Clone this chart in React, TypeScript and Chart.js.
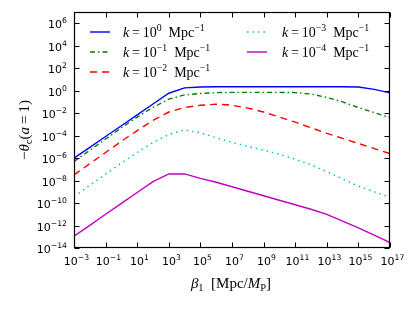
import React, { useEffect, useRef } from "react";
import { Chart, registerables } from "chart.js";

Chart.register(...registerables);

// log10 of beta_1 [Mpc/M_P] at sampled points
const betaExp = [-3, -2, -1, 0, 1, 2, 3, 4, 5, 6, 7, 8, 9, 10, 11, 12, 13, 14, 15, 16, 17];

// log10 of -theta_c(a=1) for each k
const k0Log = [-6.0, -5.04, -4.08, -3.12, -2.15, -1.19, -0.23, 0.25, 0.33, 0.35, 0.35, 0.35, 0.35, 0.35, 0.35, 0.35, 0.35, 0.35, 0.33, 0.12, -0.2];
const k1Log = [-6.3, -5.3, -4.3, -3.3, -2.35, -1.5, -0.75, -0.38, -0.25, -0.18, -0.15, -0.15, -0.15, -0.15, -0.17, -0.3, -0.6, -1.0, -1.5, -1.95, -2.4];
const k2Log = [-7.5, -6.5, -5.5, -4.5, -3.55, -2.65, -1.9, -1.5, -1.3, -1.2, -1.3, -1.55, -1.9, -2.35, -2.8, -3.3, -3.8, -4.25, -4.7, -5.15, -5.6];
const k3Log = [-9.43, -8.43, -7.43, -6.43, -5.5, -4.6, -3.9, -3.5, -3.75, -4.2, -4.6, -4.95, -5.3, -5.65, -6.1, -6.6, -7.2, -7.85, -8.5, -9.0, -9.49];
const k4Log = [-12.95, -11.98, -11.0, -10.03, -9.06, -8.1, -7.41, -7.41, -7.8, -8.15, -8.55, -8.95, -9.35, -9.75, -10.15, -10.55, -11.0, -11.6, -12.2, -12.85, -13.52];

const kExponents = ["0", "\u22121", "\u22122", "\u22123", "\u22124"];

const xTickExp = [-3, -1, 1, 3, 5, 7, 9, 11, 13, 15, 17];
const yTickExp = [-14, -12, -10, -8, -6, -4, -2, 0, 2, 4, 6];

// styles (kept separate from data)
const seriesValues = [k0Log, k1Log, k2Log, k3Log, k4Log];
const seriesColors = ["#0000ff", "#008000", "#ff0000", "#00bfbf", "#bf00bf"];
const seriesDash: number[][] = [[], [5, 3, 1.5, 3], [7, 5], [1.5, 4], []];
const legendSlots = [
  { hx: 90, tx: 123, y: 32 },
  { hx: 90, tx: 123, y: 52 },
  { hx: 90, tx: 123, y: 72 },
  { hx: 247, tx: 282, y: 32 },
  { hx: 247, tx: 282, y: 52 },
];

type Part = { t: string; it?: boolean; sc?: "sup" | "sub" };
const SERIF = "'Liberation Serif', 'DejaVu Serif', serif";
const SANS = "'DejaVu Sans', sans-serif";

const expText = (n: number) => (n < 0 ? "\u2212" + Math.abs(n) : String(n));

function drawRich(
  ctx: CanvasRenderingContext2D,
  parts: Part[],
  x: number,
  y: number,
  size: number,
  align: "left" | "center" | "right",
  family: string = SERIF,
  supRaise = 0.42
) {
  const fontFor = (p: Part) => {
    const fs = p.sc ? size * 0.7 : size;
    return `${p.it ? "italic " : ""}${fs}px ${family}`;
  };
  const widths = parts.map((p) => {
    ctx.font = fontFor(p);
    return ctx.measureText(p.t).width;
  });
  const total = widths.reduce((a, b) => a + b, 0);
  let cx = align === "center" ? x - total / 2 : align === "right" ? x - total : x;
  ctx.textAlign = "left";
  ctx.textBaseline = "alphabetic";
  parts.forEach((p, i) => {
    ctx.font = fontFor(p);
    let off = 0;
    if (p.sc === "sup") off = -size * supRaise;
    if (p.sc === "sub") off = size * 0.22;
    ctx.fillText(p.t, cx, y + off);
    cx += widths[i];
  });
}

const decor = {
  id: "decor",
  afterDraw(chart: any) {
    const { ctx, chartArea: a, scales } = chart;
    const xs = scales.x;
    const ys = scales.y;
    ctx.save();
    ctx.strokeStyle = "#000";
    ctx.lineWidth = 1;
    ctx.setLineDash([]);
    const line = (x1: number, y1: number, x2: number, y2: number) => {
      ctx.beginPath();
      ctx.moveTo(x1, y1);
      ctx.lineTo(x2, y2);
      ctx.stroke();
    };
    const L = Math.round(a.left) + 0.5;
    const R = Math.round(a.right) - 0.5;
    const T = Math.round(a.top) + 0.5;
    const B = Math.round(a.bottom) - 0.5;
    ctx.fillStyle = "#000";
    xTickExp.forEach((e) => {
      const px = Math.round(xs.getPixelForValue(Math.pow(10, e))) + 0.5;
      line(px, B, px, B - 5);
      line(px, T, px, T + 5);
      drawRich(ctx, [{ t: "10" }, { t: expText(e), sc: "sup" }], px + 2, a.bottom + 17, 11, "center", SANS, 0.5);
    });
    yTickExp.forEach((e) => {
      const py = Math.round(ys.getPixelForValue(Math.pow(10, e))) + 0.5;
      line(L, py, L + 5, py);
      line(R, py, R - 5, py);
      drawRich(ctx, [{ t: "10" }, { t: expText(e), sc: "sup" }], a.left - 7, py + 4.5, 11, "right", SANS, 0.5);
    });
    ctx.lineWidth = 1.2;
    ctx.strokeRect(L, T, R - L, B - T);

    // legend
    seriesColors.forEach((col, i) => {
      const s = legendSlots[i];
      ctx.strokeStyle = col;
      ctx.lineWidth = 1.4;
      ctx.setLineDash(seriesDash[i]);
      line(s.hx, s.y, s.hx + 20, s.y);
      ctx.setLineDash([]);
      drawRich(
        ctx,
        [
          { t: "k", it: true },
          { t: "\u2009=\u2009" },
          { t: "10" },
          { t: kExponents[i], sc: "sup" },
          { t: "\u2002Mpc" },
          { t: "\u22121", sc: "sup" },
        ],
        s.tx,
        s.y + 5,
        14,
        "left"
      );
    });

    // axis titles
    drawRich(
      ctx,
      [
        { t: "\u03b2", it: true },
        { t: "1", sc: "sub" },
        { t: "\u2002[Mpc/" },
        { t: "M", it: true },
        { t: "P", sc: "sub" },
        { t: "]" },
      ],
      231,
      288,
      15,
      "center"
    );
    ctx.save();
    ctx.translate(24, 130);
    ctx.rotate(-Math.PI / 2);
    drawRich(
      ctx,
      [
        { t: "\u2212" },
        { t: "\u03b8", it: true },
        { t: "c", sc: "sub" },
        { t: "(" },
        { t: "a", it: true },
        { t: "\u2009=\u2009" },
        { t: "1)" },
      ],
      0,
      5,
      15,
      "center"
    );
    ctx.restore();
    ctx.restore();
  },
};

export default function App() {
  const ref = useRef<HTMLCanvasElement>(null);
  useEffect(() => {
    const canvas = ref.current;
    if (!canvas) return;
    const chart = new Chart(canvas, {
      type: "line",
      data: {
        datasets: seriesValues.map((vals, i) => ({
          label: `k=10^${kExponents[i]} Mpc^-1`,
          data: betaExp.map((e, j) => ({ x: Math.pow(10, e), y: Math.pow(10, vals[j]) })),
          borderColor: seriesColors[i],
          borderWidth: 1.4,
          borderDash: seriesDash[i],
          pointRadius: 0,
          fill: false,
          tension: 0,
        })),
      },
      options: {
        responsive: false,
        animation: false,
        devicePixelRatio: 1,
        layout: { padding: { left: 0, top: 12, right: 25, bottom: 0 } },
        plugins: { legend: { display: false }, tooltip: { enabled: false } },
        scales: {
          x: {
            type: "logarithmic",
            min: 1e-3,
            max: 1e17,
            afterBuildTicks: (s: any) => {
              s.ticks = xTickExp.map((e) => ({ value: Math.pow(10, e) }));
            },
            afterFit: (s: any) => {
              s.height = 63;
            },
            grid: { display: false, drawTicks: false },
            border: { display: false },
            ticks: { display: false },
          },
          y: {
            type: "logarithmic",
            min: 1e-14,
            max: 1e7,
            afterBuildTicks: (s: any) => {
              s.ticks = yTickExp.map((e) => ({ value: Math.pow(10, e) }));
            },
            afterFit: (s: any) => {
              s.width = 74;
            },
            grid: { display: false, drawTicks: false },
            border: { display: false },
            ticks: { display: false },
          },
        },
      } as any,
      plugins: [decor],
    });
    return () => chart.destroy();
  }, []);
  return (
    <div style={{ position: "fixed", left: 0, top: 0, width: 415, height: 311, background: "#fff" }}>
      <canvas ref={ref} width={415} height={311} />
    </div>
  );
}
